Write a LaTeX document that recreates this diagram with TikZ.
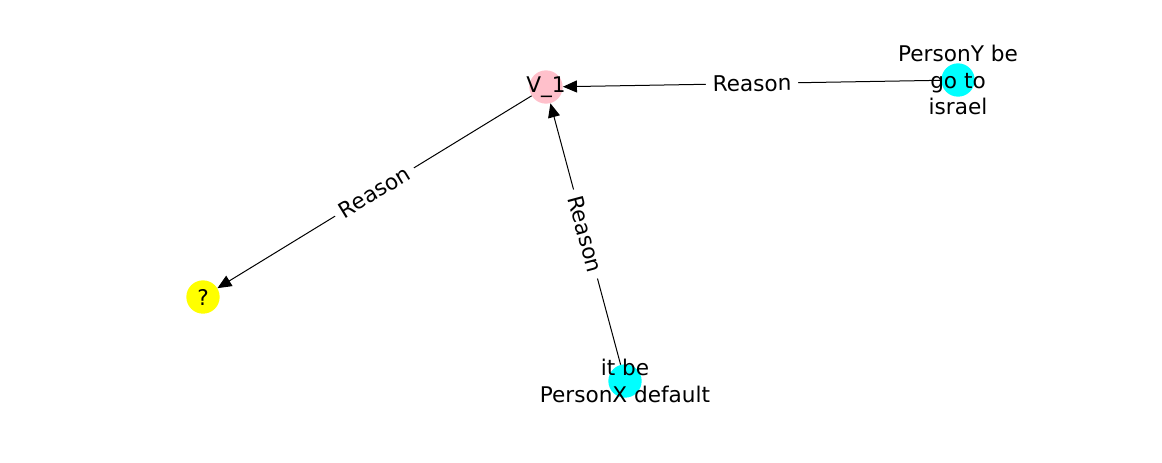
\documentclass[tikz,border=0pt]{standalone}
\usepackage{fontspec}
\setmainfont{DejaVu Sans}
\usetikzlibrary{arrows.meta}
\definecolor{npink}{HTML}{FFC0CB}
\definecolor{ncyan}{HTML}{00FFFF}
\definecolor{nyellow}{HTML}{FFFF00}
\begin{document}
\begin{tikzpicture}[x=0.75pt,y=-0.75pt,
  dot/.style={circle,minimum size=25pt,inner sep=0pt,draw=none},
  lab/.style={font=\fontsize{16.2}{19.9}\selectfont,text=black,align=center,inner sep=0pt},
  edgelab/.style={font=\fontsize{16.2}{19}\selectfont,fill=white,inner xsep=5pt,inner ysep=3pt,sloped},
  arr/.style={line width=0.75pt,-{Triangle[length=10.5pt,width=9pt]}}]
\useasboundingbox (0,0) rectangle (1162,462);
\node[dot,fill=npink] (v1) at (546,87) {};
\node[dot,fill=ncyan] (py) at (958,80) {};
\node[dot,fill=nyellow] (q) at (203,297) {};
\node[dot,fill=ncyan] (px) at (625,381) {};
\draw[arr] (py) -- node[edgelab]{Reason} (v1);
\draw[arr] (v1) -- node[edgelab]{Reason} (q);
\draw[arr] (px) -- node[edgelab]{Reason} (v1);
\node[lab] (t1) at (546,87) {V\_1};
\node[lab] (t2) at (958,80) {PersonY be\\go to\\israel};
\node[lab] (t3) at (203,297) {?};
\node[lab] (t4) at (625,381) {it be\\PersonX default};
\end{tikzpicture}
\end{document}
